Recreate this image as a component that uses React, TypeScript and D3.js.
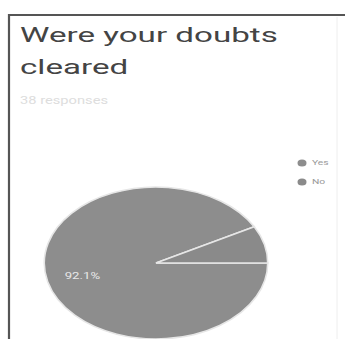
import React, { useEffect, useRef } from "react";
import * as d3 from "d3";

// answers and their share of responses
const categories = ["Yes", "No"];
const values = [92.1, 7.9];
const responses = 38;
const title = ["Were your doubts", "cleared"];

const App = () => {
  const ref = useRef<SVGSVGElement>(null);

  useEffect(() => {
    const width = 347;
    const height = 339;
    const sx = 1.47; // photo is stretched horizontally

    const svg = d3.select(ref.current);
    svg.selectAll("*").remove();
    svg.attr("width", width).attr("height", height).attr("viewBox", [0, 0, width, height]);

    svg.append("rect").attr("width", width).attr("height", height).attr("fill", "#fff");

    // card frame
    svg
      .append("path")
      .attr("d", `M9,${height} V15 H345`)
      .attr("fill", "none")
      .attr("stroke", "#555")
      .attr("stroke-width", 2.2);
    svg
      .append("line")
      .attr("x1", 337)
      .attr("x2", 337)
      .attr("y1", 17)
      .attr("y2", height)
      .attr("stroke", "#eee")
      .attr("stroke-width", 1);

    // title
    title.forEach((t, i) => {
      svg
        .append("text")
        .attr("transform", `translate(20,${42 + i * 32}) scale(1.58,1)`)
        .attr("font-family", "Roboto, sans-serif")
        .attr("font-size", 21)
        .attr("fill", "#444")
        .text(t);
    });

    svg
      .append("text")
      .attr("transform", `translate(20,104) scale(${sx},1)`)
      .attr("font-family", "Roboto, sans-serif")
      .attr("font-size", 10)
      .attr("fill", "#ddd")
      .text(`${responses} responses`);

    // pie
    const r = 76;
    const color = d3.scaleOrdinal<string, string>().domain(categories).range(["#8d8d8d", "#8a8a8a"]);
    const pie = d3
      .pie<number>()
      .sort(null)
      .startAngle(Math.PI / 2)
      .endAngle(Math.PI / 2 + 2 * Math.PI);
    const arcs = pie(values);
    const arc = d3.arc<d3.PieArcDatum<number>>().innerRadius(0).outerRadius(r);
    const labelArc = d3.arc<d3.PieArcDatum<number>>().innerRadius(r * 0.68).outerRadius(r * 0.68);

    const g = svg.append("g").attr("transform", `translate(156,263) scale(${sx},1)`);
    g.selectAll("path")
      .data(arcs)
      .join("path")
      .attr("d", arc)
      .attr("fill", (d, i) => color(categories[i]))
      .attr("stroke", "#e6e6e6")
      .attr("stroke-width", 1.6)
      .attr("vector-effect", "non-scaling-stroke");

    const big = arcs[0];
    const [lx, ly] = labelArc.centroid(big);
    svg
      .append("text")
      .attr("transform", `translate(${156 + lx * sx},${263 + ly}) scale(${sx},1)`)
      .attr("text-anchor", "middle")
      .attr("dy", "0.35em")
      .attr("font-family", "Roboto, sans-serif")
      .attr("font-size", 9)
      .attr("fill", "#e8e8e8")
      .text(`${values[0]}%`);

    // legend
    const legend = svg
      .append("g")
      .selectAll("g")
      .data(categories)
      .join("g")
      .attr("transform", (d, i) => `translate(302,${163 + i * 19})`);
    legend
      .append("ellipse")
      .attr("rx", 4.5)
      .attr("ry", 3.5)
      .attr("fill", (d) => color(d));
    legend
      .append("text")
      .attr("transform", `translate(10,0) scale(${sx},1)`)
      .attr("dy", "0.35em")
      .attr("font-family", "Roboto, sans-serif")
      .attr("font-size", 7)
      .attr("fill", "#999")
      .text((d) => d);
  }, []);

  return <svg ref={ref} style={{ position: "absolute", left: 0, top: 0 }}></svg>;
};

export default App;
